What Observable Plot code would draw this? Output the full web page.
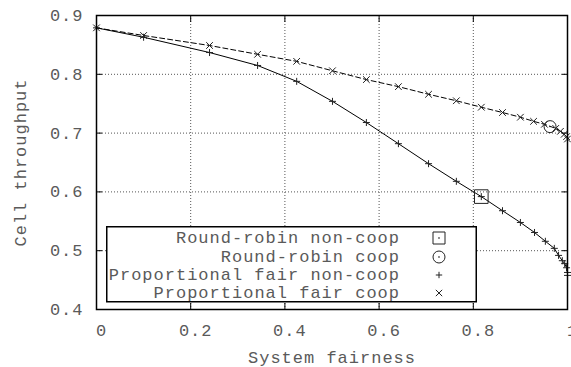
<!DOCTYPE html>
<html><head><meta charset="utf-8">
<script src="https://cdn.jsdelivr.net/npm/d3@7"></script>
<script src="https://cdn.jsdelivr.net/npm/@observablehq/plot@0.6"></script>
<style>
html,body{margin:0;padding:0;background:#fff;}
#wrap{position:relative;width:571px;height:367px;overflow:hidden;}
#wrap svg text{letter-spacing:1px;}
</style></head><body><div id="wrap"></div>
<script>
const xTicks = [0, 0.2, 0.4, 0.6, 0.8, 1];
const xTickLabels = ["0", "0.2", "0.4", "0.6", "0.8", "1"];
const yTicks = [0.4, 0.5, 0.6, 0.7, 0.8, 0.9];
const yTickLabels = ["0.4", "0.5", "0.6", "0.7", "0.8", "0.9"];
const xTitle = "System fairness";
const yTitle = "Cell throughput";
const seriesNames = ["Round-robin non-coop", "Round-robin coop", "Proportional fair non-coop", "Proportional fair coop"];

const rrNonCoopX = [0.817];
const rrNonCoopY = [0.592];
const rrCoopX = [0.963];
const rrCoopY = [0.711];
const pfNonCoopX = [0, 0.1, 0.24, 0.342, 0.425, 0.501, 0.573, 0.641, 0.705, 0.764, 0.817, 0.862, 0.900, 0.930, 0.953, 0.972, 0.981, 0.989, 0.994, 0.998, 1.0, 1.0];
const pfNonCoopY = [0.879, 0.863, 0.837, 0.815, 0.788, 0.754, 0.718, 0.682, 0.648, 0.618, 0.592, 0.568, 0.548, 0.531, 0.516, 0.504, 0.492, 0.483, 0.478, 0.471, 0.463, 0.458];
const pfCoopX = [0, 0.1, 0.24, 0.342, 0.425, 0.501, 0.573, 0.641, 0.705, 0.764, 0.817, 0.862, 0.900, 0.928, 0.951, 0.975, 0.985, 0.993, 0.998, 1.0];
const pfCoopY = [0.879, 0.866, 0.849, 0.834, 0.822, 0.806, 0.791, 0.779, 0.766, 0.755, 0.744, 0.735, 0.727, 0.720, 0.715, 0.708, 0.703, 0.698, 0.694, 0.690];

const zip = (xs, ys) => xs.map((x, i) => ({x, y: ys[i]}));
const rrNonCoop = zip(rrNonCoopX, rrNonCoopY);
const rrCoop = zip(rrCoopX, rrCoopY);
const pfNonCoop = zip(pfNonCoopX, pfNonCoopY);
const pfCoop = zip(pfCoopX, pfCoopY);

const hOf = size => Math.sqrt(size / Math.PI);
const symPlus = {draw(c, s) {const h = hOf(s); c.moveTo(-h, 0); c.lineTo(h, 0); c.moveTo(0, -h); c.lineTo(0, h);}};
const symTimes = {draw(c, s) {const h = hOf(s) * 0.7071; c.moveTo(-h, -h); c.lineTo(h, h); c.moveTo(-h, h); c.lineTo(h, -h);}};
const symBox = {draw(c, s) {const h = hOf(s); c.rect(-h, -h, 2 * h, 2 * h); c.moveTo(0.4, 0); c.arc(0, 0, 0.4, 0, 2 * Math.PI);}};
const symCircle = {draw(c, s) {const r = hOf(s); c.moveTo(r, 0); c.arc(0, 0, r, 0, 2 * Math.PI); c.moveTo(0.4, 0); c.arc(0, 0, 0.4, 0, 2 * Math.PI);}};

const gridStyle = {stroke: "#555", strokeOpacity: 1, strokeDasharray: "1,2", strokeWidth: 1};
const tickStyle = {tickSize: -6, fill: "none", label: null, stroke: "black", strokeWidth: 1};
const textColor = "#5a5a5a";
const fontSize = "17px";

const plot = Plot.plot({
  width: 571, height: 367,
  marginLeft: 96, marginRight: 4, marginTop: 15, marginBottom: 58,
  x: {domain: [0, 1]},
  y: {domain: [0.4, 0.9]},
  style: {fontFamily: '"Liberation Mono", monospace', fontSize, background: "white", color: textColor},
  marks: [
    Plot.gridX(xTicks.slice(1, -1), gridStyle),
    Plot.gridY(yTicks.slice(1, -1), gridStyle),
    Plot.axisX(xTicks, {anchor: "bottom", ...tickStyle}),
    Plot.axisX(xTicks, {anchor: "top", ...tickStyle}),
    Plot.axisY(yTicks, {anchor: "left", ...tickStyle}),
    Plot.axisY(yTicks, {anchor: "right", ...tickStyle}),
    Plot.line(pfNonCoop, {x: "x", y: "y", stroke: "black", strokeWidth: 1}),
    Plot.line(pfCoop, {x: "x", y: "y", stroke: "black", strokeWidth: 1, strokeDasharray: "5,3"}),
    Plot.dot(pfNonCoop, {x: "x", y: "y", symbol: symPlus, r: 3.5, stroke: "#222", strokeWidth: 1, fill: "none"}),
    Plot.dot(pfCoop, {x: "x", y: "y", symbol: symTimes, r: 4.7, stroke: "#222", strokeWidth: 1, fill: "none"}),
    Plot.dot(rrNonCoop, {x: "x", y: "y", symbol: symBox, r: 6.8, stroke: "#222", strokeWidth: 1, fill: "none"}),
    Plot.dot(rrCoop, {x: "x", y: "y", symbol: symCircle, r: 6, stroke: "#222", strokeWidth: 1, fill: "none"}),
    Plot.frame({stroke: "black", strokeWidth: 1.5}),
    Plot.text(xTickLabels, {x: (d, i) => xTicks[i], text: d => d, frameAnchor: "bottom", dy: 21, dx: 5, textAnchor: "middle", lineAnchor: "middle", fill: textColor}),
    Plot.text(yTickLabels, {y: (d, i) => yTicks[i], text: d => d, frameAnchor: "left", dx: -13, textAnchor: "end", lineAnchor: "middle", fill: textColor}),
    Plot.text([xTitle], {text: d => d, frameAnchor: "bottom", dy: 48, textAnchor: "middle", lineAnchor: "middle", fill: textColor}),
    Plot.text([yTitle], {text: d => d, frameAnchor: "left", dx: -76, rotate: -90, textAnchor: "middle", lineAnchor: "middle", fill: textColor})
  ]
});
const wrap = document.getElementById("wrap");
plot.style.position = "absolute";
plot.style.left = "0px";
plot.style.top = "0px";
wrap.appendChild(plot);

// Legend (opaque key box inside the plot area)
const legendSymbols = [symBox, symCircle, symPlus, symTimes];
const legendSizes = [6, 6, 3.2, 4.5];
const leg = d3.create("svg").attr("width", 373).attr("height", 78)
  .style("position", "absolute").style("left", "105px").style("top", "225px")
  .style("font-family", '"Liberation Mono", monospace').style("font-size", fontSize);
leg.append("rect").attr("x", 1.75).attr("y", 1.75).attr("width", 369.5).attr("height", 75)
  .attr("fill", "white").attr("stroke", "black").attr("stroke-width", 1.5);
const rowY = [13, 32, 50, 68];
seriesNames.forEach((name, i) => {
  leg.append("text").attr("x", 295).attr("y", rowY[i]).attr("text-anchor", "end")
    .attr("dominant-baseline", "central").attr("fill", textColor).text(name);
  const p = d3.path();
  legendSymbols[i].draw(p, Math.PI * legendSizes[i] * legendSizes[i]);
  leg.append("path").attr("d", p.toString()).attr("transform", `translate(334,${rowY[i]})`)
    .attr("fill", "none").attr("stroke", "#222").attr("stroke-width", 1);
});
wrap.appendChild(leg.node());
</script></body></html>
